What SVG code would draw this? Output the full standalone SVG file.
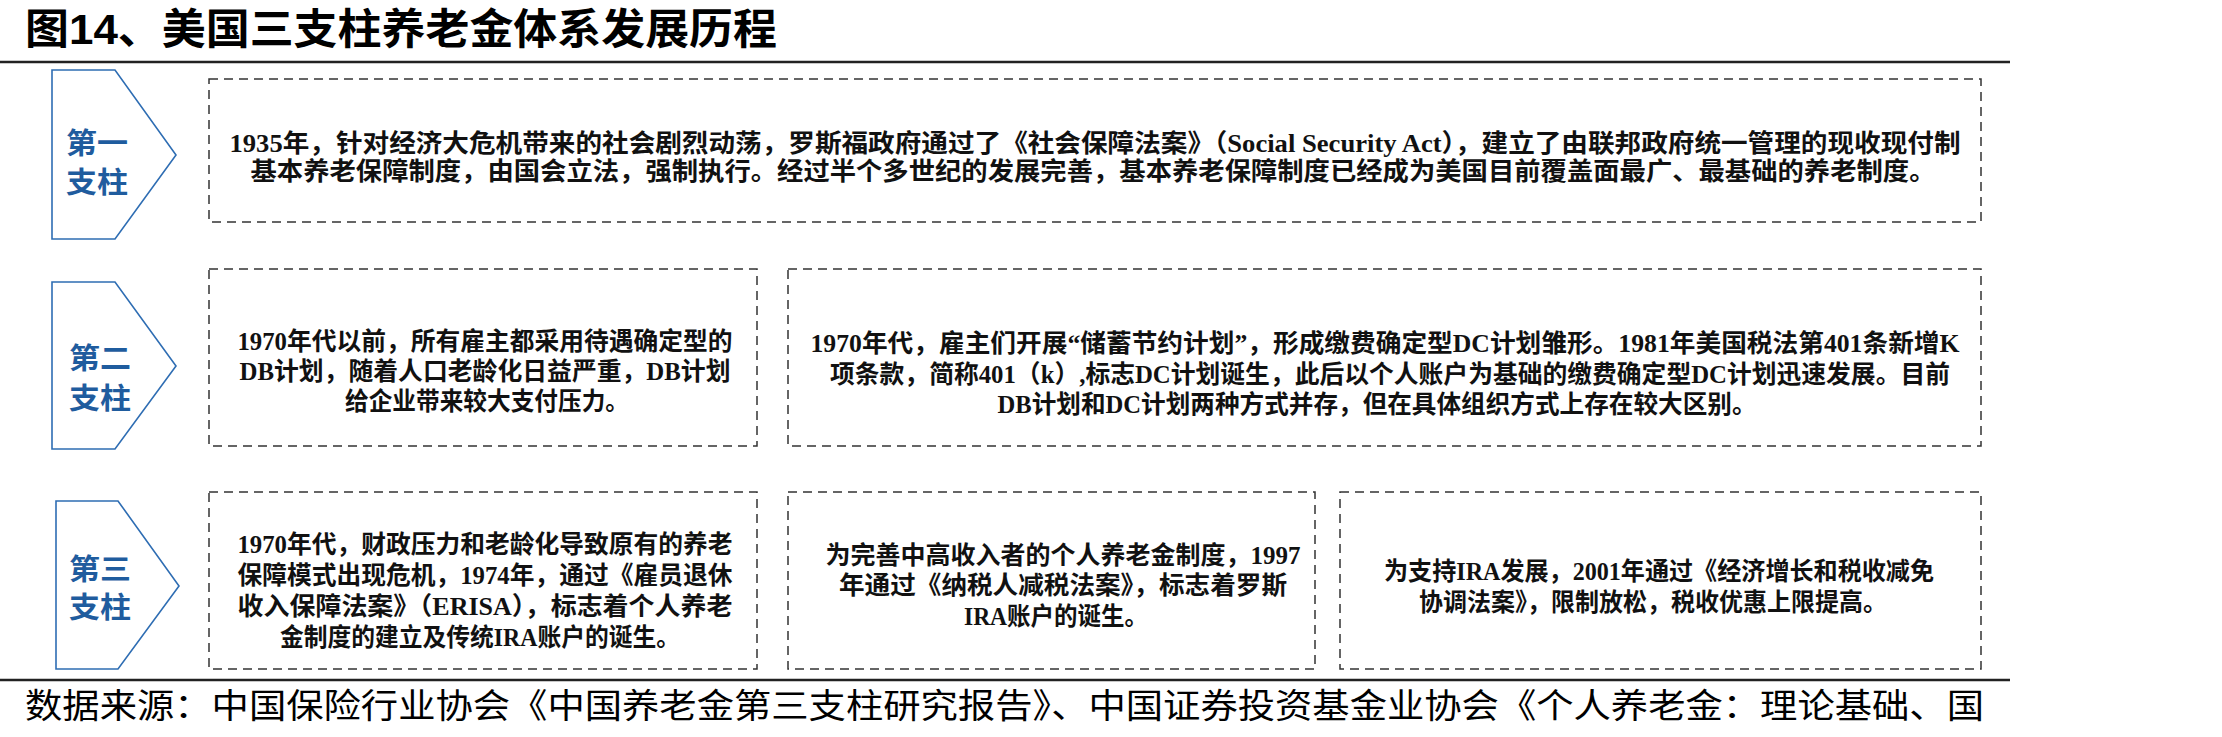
<svg xmlns="http://www.w3.org/2000/svg" width="2222" height="737" viewBox="0 0 2222 737">
<style>
.title{font-family:"Liberation Sans","Noto Sans CJK SC",sans-serif;font-weight:bold;font-size:42px;fill:#000}
.src{font-family:"Liberation Sans","Noto Sans CJK SC",sans-serif;font-size:34px;fill:#000}
.pillar{fill:#fff;stroke:#2e6db3;stroke-width:1.6}
.ptxt{font-family:"Noto Sans CJK SC",sans-serif;font-weight:bold;font-size:29px;fill:#1f5c9e;text-anchor:middle}
.box{fill:#fff;stroke:#333;stroke-width:1.5;stroke-dasharray:9 6}
.t{font-family:"Liberation Serif","Noto Sans CJK SC",serif;font-weight:bold;font-size:25px;fill:#111;text-anchor:middle}
.rule{stroke:#222;stroke-width:2.5}
</style>
<rect width="2222" height="737" fill="#fff"/>
<text class="title" x="25" y="44" textLength="752" lengthAdjust="spacingAndGlyphs">图14、美国三支柱养老金体系发展历程</text>
<line class="rule" x1="0" y1="62" x2="2010" y2="62"/>

<g id="pillar1">
<polygon class="pillar" points="52,70 115,70 176,155 115,239 52,239"/>
<text class="ptxt" x="97" y="154" textLength="62" lengthAdjust="spacingAndGlyphs">第一</text>
<text class="ptxt" x="97" y="193" textLength="62" lengthAdjust="spacingAndGlyphs">支柱</text>
</g>
<g id="pillar2">
<polygon class="pillar" points="52,282 115,282 176,366 115,449 52,449"/>
<text class="ptxt" x="100" y="369" textLength="62" lengthAdjust="spacingAndGlyphs">第二</text>
<text class="ptxt" x="100" y="409" textLength="62" lengthAdjust="spacingAndGlyphs">支柱</text>
</g>
<g id="pillar3">
<polygon class="pillar" points="56,501 118,501 179,586 118,669 56,669"/>
<text class="ptxt" x="100" y="580" textLength="62" lengthAdjust="spacingAndGlyphs">第三</text>
<text class="ptxt" x="100" y="618" textLength="62" lengthAdjust="spacingAndGlyphs">支柱</text>
</g>

<g id="box1">
<rect class="box" x="209" y="79" width="1772" height="143"/>
<text class="t" x="1095" y="152" textLength="1731" lengthAdjust="spacingAndGlyphs">1935年，针对经济大危机带来的社会剧烈动荡，罗斯福政府通过了《社会保障法案》（Social Security Act），建立了由联邦政府统一管理的现收现付制</text>
<text class="t" x="1093" y="180" textLength="1685" lengthAdjust="spacingAndGlyphs">基本养老保障制度，由国会立法，强制执行。经过半个多世纪的发展完善，基本养老保障制度已经成为美国目前覆盖面最广、最基础的养老制度。</text>
</g>

<g id="box2a">
<rect class="box" x="209" y="269" width="548" height="177"/>
<text class="t" x="485" y="350" textLength="495" lengthAdjust="spacingAndGlyphs">1970年代以前，所有雇主都采用待遇确定型的</text>
<text class="t" x="485" y="380" textLength="491" lengthAdjust="spacingAndGlyphs">DB计划，随着人口老龄化日益严重，DB计划</text>
<text class="t" x="487" y="410" textLength="284" lengthAdjust="spacingAndGlyphs">给企业带来较大支付压力。</text>
</g>

<g id="box2b">
<rect class="box" x="788" y="269" width="1193" height="177"/>
<text class="t" x="1385" y="352" textLength="1149" lengthAdjust="spacingAndGlyphs">1970年代，雇主们开展“储蓄节约计划”，形成缴费确定型DC计划雏形。1981年美国税法第401条新增K</text>
<text class="t" x="1390" y="383" textLength="1120" lengthAdjust="spacingAndGlyphs">项条款，简称401（k）,标志DC计划诞生，此后以个人账户为基础的缴费确定型DC计划迅速发展。目前</text>
<text class="t" x="1377" y="413" textLength="759" lengthAdjust="spacingAndGlyphs">DB计划和DC计划两种方式并存，但在具体组织方式上存在较大区别。</text>
</g>

<g id="box3a">
<rect class="box" x="209" y="492" width="548" height="177"/>
<text class="t" x="485" y="553" textLength="495" lengthAdjust="spacingAndGlyphs">1970年代，财政压力和老龄化导致原有的养老</text>
<text class="t" x="485" y="584" textLength="495" lengthAdjust="spacingAndGlyphs">保障模式出现危机，1974年，通过《雇员退休</text>
<text class="t" x="485" y="615" textLength="495" lengthAdjust="spacingAndGlyphs">收入保障法案》（ERISA），标志着个人养老</text>
<text class="t" x="480" y="646" textLength="400" lengthAdjust="spacingAndGlyphs">金制度的建立及传统IRA账户的诞生。</text>
</g>

<g id="box3b">
<rect class="box" x="788" y="492" width="527" height="177"/>
<text class="t" x="1063" y="564" textLength="475" lengthAdjust="spacingAndGlyphs">为完善中高收入者的个人养老金制度，1997</text>
<text class="t" x="1063" y="594" textLength="448" lengthAdjust="spacingAndGlyphs">年通过《纳税人减税法案》，标志着罗斯</text>
<text class="t" x="1056" y="625" textLength="184" lengthAdjust="spacingAndGlyphs">IRA账户的诞生。</text>
</g>

<g id="box3c">
<rect class="box" x="1340" y="492" width="641" height="177"/>
<text class="t" x="1659" y="580" textLength="550" lengthAdjust="spacingAndGlyphs">为支持IRA发展，2001年通过《经济增长和税收减免</text>
<text class="t" x="1653" y="611" textLength="468" lengthAdjust="spacingAndGlyphs">协调法案》，限制放松，税收优惠上限提高。</text>
</g>

<g id="connectors"></g>

<line class="rule" x1="0" y1="680" x2="2010" y2="680"/>
<text class="src" x="25" y="718" textLength="1959" lengthAdjust="spacingAndGlyphs">数据来源：中国保险行业协会《中国养老金第三支柱研究报告》、中国证券投资基金业协会《个人养老金：理论基础、国</text>
</svg>
